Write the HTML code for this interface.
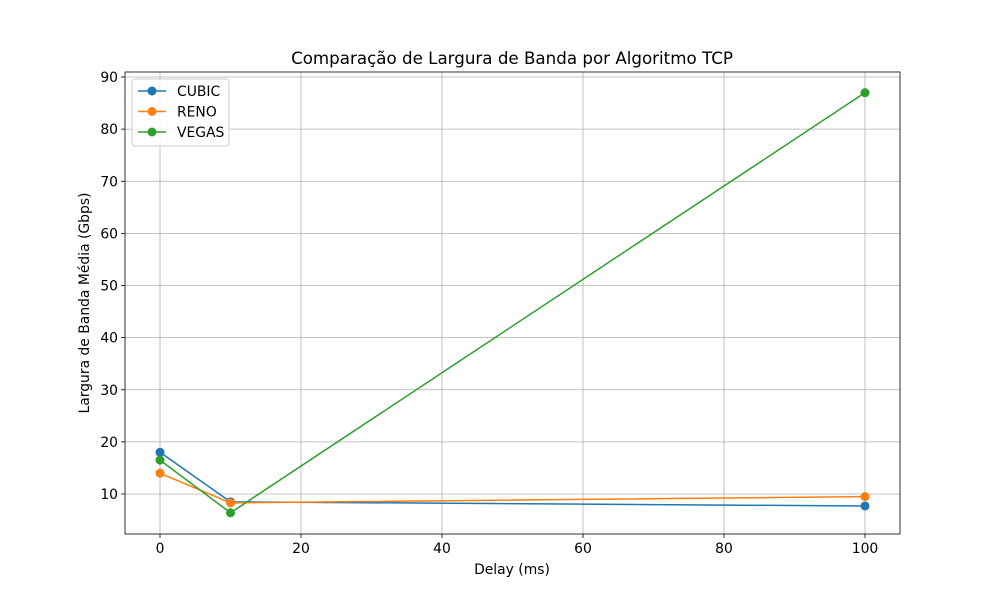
<!DOCTYPE html>
<html><head><meta charset="utf-8"><style>
body{margin:0;background:#fff;}
svg text{font-family:"DejaVu Sans","Liberation Sans",sans-serif;fill:#000;}
</style></head><body>
<svg id="chart" width="1000" height="600">
<rect x="0" y="0" width="1000" height="600" fill="#fff"/>
<g id="grid"></g><g id="series"></g><g id="axes"></g>
<text x="512" y="64" text-anchor="middle" font-size="16.7">Comparação de Largura de Banda por Algoritmo TCP</text>
<text x="512" y="574" text-anchor="middle" font-size="13.9">Delay (ms)</text>
<text transform="translate(89,303) rotate(-90)" text-anchor="middle" font-size="13.9">Largura de Banda Média (Gbps)</text>
<g id="legend"></g>
</svg>
<script>
const xValues=[0,10,100];
const cubic=[18.0,8.5,7.7];
const reno=[14.0,8.3,9.5];
const vegas=[16.5,6.4,87.0];
const seriesNames=["CUBIC","RENO","VEGAS"];
const xTicks=[0,20,40,60,80,100];
const yTicks=[10,20,30,40,50,60,70,80,90];

const NS="http://www.w3.org/2000/svg";
const L=125,R=900,T=72,B=534;
const xs=v=>160+(v-0)*7.05;
const ys=v=>494-(v-10)*5.2125;
function mk(tag,attrs,parent){const e=document.createElementNS(NS,tag);for(const k in attrs)e.setAttribute(k,attrs[k]);parent.appendChild(e);return e;}
const grid=document.getElementById('grid'),axes=document.getElementById('axes'),ser=document.getElementById('series'),leg=document.getElementById('legend');
xTicks.forEach(t=>{const x=xs(t);
 const g=mk('line',{x1:x,x2:x,y1:T,y2:B,stroke:'#b0b0b0','stroke-width':0.8},grid);
 
 
 mk('line',{x1:x,x2:x,y1:B,y2:B+4,stroke:'#000','stroke-width':0.8},axes);
 const tx=mk('text',{x:x,y:B+19,'text-anchor':'middle','font-size':13.9},axes);tx.textContent=t;
 
 
});
yTicks.forEach(t=>{const y=ys(t);
 const g=mk('line',{x1:L,x2:R,y1:y,y2:y,stroke:'#b0b0b0','stroke-width':0.8},grid);
 
 
 mk('line',{x1:L-4,x2:L,y1:y,y2:y,stroke:'#000','stroke-width':0.8},axes);
 const tx=mk('text',{x:L-7,y:y+5,'text-anchor':'end','font-size':13.9},axes);tx.textContent=t;
 
 
});
const frame=mk('rect',{x:L,y:T,width:R-L,height:B-T,fill:'none',stroke:'#000','stroke-width':0.8},axes);


const colors=['#1f77b4','#ff7f0e','#2ca02c'];
[cubic,reno,vegas].forEach((d,i)=>{
 const pts=d.map((v,j)=>xs(xValues[j])+','+ys(v)).join(' ');
 const pl=mk('polyline',{points:pts,fill:'none',stroke:colors[i],'stroke-width':1.5},ser);
 
 
 d.forEach((v,j)=>{const c=mk('circle',{cx:xs(xValues[j]),cy:ys(v),r:4.5,fill:colors[i]},ser);
  
  });
 const ly=91+i*20.5;
 mk('line',{x1:138,x2:166,y1:ly,y2:ly,stroke:colors[i],'stroke-width':1.5},leg);
 mk('circle',{cx:152,cy:ly,r:4.5,fill:colors[i]},leg);
 const t=mk('text',{x:177,y:ly+5,'font-size':13.9},leg);t.textContent=seriesNames[i];
 
 
});
const lb=mk('rect',{x:132,y:79,width:97,height:67,rx:3,fill:'#fff','fill-opacity':0.8,stroke:'#ccc'},leg);
leg.insertBefore(lb,leg.firstChild);


</script>
</body></html>
